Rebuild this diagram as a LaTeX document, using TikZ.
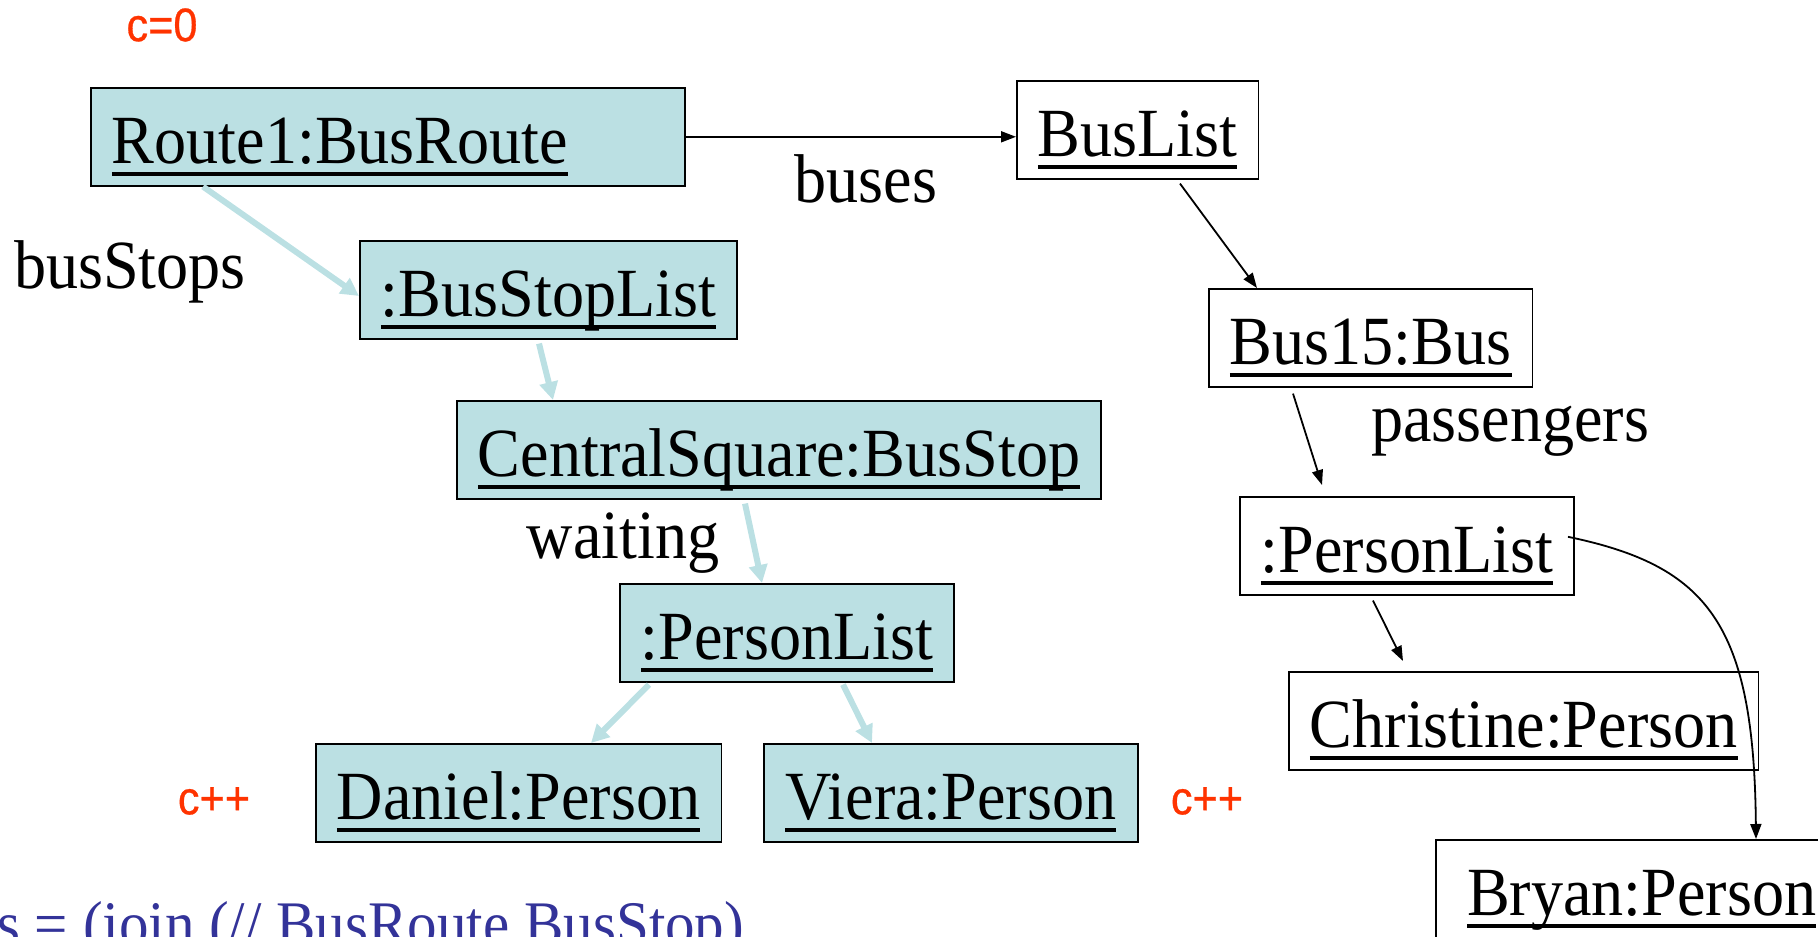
\documentclass[tikz,border=0pt]{standalone}
\usepackage{fontspec}
\setmainfont{Liberation Serif}[FakeStretch=0.93]
\newfontfamily\tagfont{Liberation Sans}[FakeStretch=0.92,FakeBold=0.6]
\usetikzlibrary{arrows.meta}
\definecolor{objblue}{RGB}{187,224,227}
\definecolor{tagred}{RGB}{255,51,0}
\definecolor{exprblue}{RGB}{51,51,153}
\newcommand{\objname}[1]{\leavevmode\setbox0=\hbox{#1}\dp0=0pt\vtop{\box0\kern8pt\hrule height 4pt}}
\begin{document}
\begin{tikzpicture}[x=1pt,y=-1pt]
    \tikzset{object/.style = {draw, line width=1.6pt, anchor=north west, inner xsep=21pt, inner ysep=0pt,
        text height=76pt, text depth=22pt, font=\fontsize{69}{76}\selectfont}}
    \tikzset{visited/.style = {object, fill=objblue}}
    \tikzset{role/.style = {anchor=base, inner sep=0pt, font=\fontsize{69}{76}\selectfont}}
    \tikzset{tally/.style = {inner sep=0pt, text=tagred, font=\tagfont\fontsize{47}{50}\selectfont}}
    \tikzset{link/.style = {draw, line width=1.8pt, -{Triangle[length=15pt,width=11pt]}}}
    \tikzset{walk/.style = {draw=objblue, line width=6pt, -{Triangle[length=18pt,width=18pt]}}}
    \clip (0,0) rectangle (1818,937);
    \useasboundingbox (0,0) rectangle (1818,937);
    \node[visited, text width=552pt, align=left] (route) at (90,87) {\objname{Route1:BusRoute}};
    \node[object, minimum width=240pt] (buslist) at (1016,80) {\objname{BusList}};
    \node[visited, minimum width=376pt] (stoplist) at (359,240) {\objname{:BusStopList}};
    \node[visited, minimum width=641pt] (central) at (456,400) {\objname{CentralSquare:BusStop}};
    \node[visited, minimum width=333pt] (waitlist) at (619,583) {\objname{:PersonList}};
    \node[visited, minimum width=404pt] (daniel) at (315,743) {\objname{Daniel:Person}};
    \node[visited, minimum width=374pt] (viera) at (763,743) {\objname{Viera:Person}};
    \node[object, minimum width=321pt] (bus) at (1208,288) {\objname{Bus15:Bus}};
    \node[object, minimum width=333pt] (paxlist) at (1239,496) {\objname{:PersonList}};
    \node[object, minimum width=467pt] (christine) at (1288,671) {\objname{Christine:Person}};
    \node[object, minimum width=412pt] (bryan) at (1435,839) {\objname{Bryan:Person}};
    \node[role] (buses) at (866,202) {buses};
    \node[role] (busstops) at (130,288) {busStops};
    \node[role] (waiting) at (623,558) {waiting};
    \node[role] (passengers) at (1510,441) {passengers};
    \node[tally] (start) at (162,25) {c=0};
    \node[tally] (inca) at (214,801) {c++};
    \node[tally] (incb) at (1207,801) {c++};
    \node[anchor=base west, inner sep=0pt, text=exprblue, font=\fontsize{63.5}{70}\selectfont] (expr) at (-3,945)
        {s = (join (// BusRoute BusStop)};
    \draw[link] (route.east) -- (route.east -| buslist.west);
    \draw[walk] ([xshift=113pt]route.south west) -- ([yshift=-56pt]stoplist.north west);
    \draw[walk] ([xshift=180pt,yshift=-4pt]stoplist.south west) -- ([xshift=97pt]central.north west);
    \draw[walk] ([xshift=289pt,yshift=-4pt]central.south west) -- ([xshift=143pt]waitlist.north west);
    \draw[walk] ([xshift=30pt,yshift=-2pt]waitlist.south west) -- ([xshift=276pt]daniel.north west);
    \draw[walk] ([xshift=224pt,yshift=-2pt]waitlist.south west) -- ([xshift=109pt]viera.north west);
    \draw[link] ([xshift=164pt,yshift=-4pt]buslist.south west) -- ([xshift=49pt]bus.north west);
    \draw[link] ([xshift=85pt,yshift=-6pt]bus.south west) -- ([xshift=83pt,yshift=11pt]paxlist.north west);
    \draw[link] ([xshift=134pt,yshift=-5pt]paxlist.south west) -- ([xshift=115pt,yshift=10pt]christine.north west);
    \draw[link] ([xshift=-7pt,yshift=9pt]paxlist.east) .. controls +(140,29) and +(-2,-215) .. ([xshift=321pt]bryan.north west);
\end{tikzpicture}
\end{document}
